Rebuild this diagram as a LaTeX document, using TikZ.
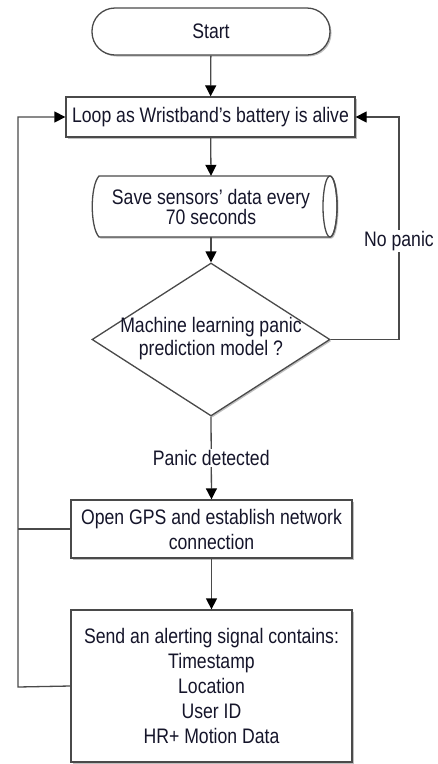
\documentclass[tikz,border=0pt]{standalone}
\usepackage{fontspec}
\setmainfont{Liberation Sans}[FakeStretch=0.84]
\usetikzlibrary{arrows.meta,shadows,shapes.geometric}
\definecolor{ln}{HTML}{4A4A4A}
\definecolor{tx}{HTML}{15152A}
\begin{document}
\begin{tikzpicture}[x=1pt,y=-1pt,
  every node/.style={text=tx, font=\fontsize{21}{25}\selectfont},
  shade/.style={drop shadow={shadow xshift=1.5pt,shadow yshift=-1.5pt,opacity=0.25,fill=black}},
  box/.style={draw=ln, line width=1.3pt, fill=white, inner sep=0pt, align=center, shade},
  arr/.style={draw=ln, line width=1.3pt, -{Triangle[length=11pt,width=11pt,color=black]}},
  con/.style={draw=ln, line width=1.3pt},
  lbl/.style={fill=white, inner sep=1.5pt}
]
\useasboundingbox (0,0) rectangle (438,764);

% nodes
\node[box, rounded corners=23pt, minimum width=238pt, minimum height=47pt] (start) at (211,31.5) {Start};
\node[box, minimum width=289pt, minimum height=40pt] (loop) at (210.5,117) {Loop as Wristband's battery is alive};

% storage shape
\fill[black, opacity=0.25] (100.5,177.5) -- (331.5,177.5) arc[start angle=-90,end angle=90,x radius=7,y radius=30.5] -- (100.5,238.5) .. controls (91.5,228.5) and (91.5,187.5) .. cycle;
\filldraw[draw=ln, fill=white, line width=1.3pt] (99,176) -- (330,176) arc[start angle=-90,end angle=90,x radius=7,y radius=30.5] -- (99,237) .. controls (90,227) and (90,186) .. cycle;
\draw[ln, line width=1.3pt] (330,206.5) ellipse[x radius=7, y radius=30.5];
\node[inner sep=0pt, minimum width=245pt, minimum height=61pt, align=center, font=\fontsize{21}{20}\selectfont] (save) at (211,206.5) {Save sensors' data every\\70 seconds};

\node[diamond, draw=ln, line width=1.3pt, fill=white, inner sep=0pt, minimum width=238pt, minimum height=153pt, shade] (dec) at (211,339.5) {};
\node[align=center, inner sep=0pt, font=\fontsize{21}{23}\selectfont] (dectxt) at (211,339) {Machine learning panic\\prediction model ?};

\node[box, minimum width=281pt, minimum height=58pt] (gps) at (211.5,529) {Open GPS and establish network\\connection};
\node[box, minimum width=281pt, minimum height=152pt] (send) at (211.5,686) {Send an alerting signal contains:\\Timestamp\\Location\\User ID\\HR+ Motion Data};

\coordinate (rc) at (399,339.5);
\coordinate (lc) at (18,687);

% connectors
\draw[arr] (start) -- (loop);
\draw[arr] (loop) -- (save.north);
\draw[arr] (save.south) -- (dec.north);
\draw[arr] (dec.south) -- node[lbl] {Panic detected} (gps.north);
\draw[arr] (gps) -- (send);
\draw[arr] (dec.east) -- (rc) -- node[lbl, pos=0.443] {No panic} (rc |- loop.east) -- (loop.east);
\draw[arr] (send.west) -- (lc) -- (lc |- loop.west) -- (loop.west);
\draw[con] (gps.west) -- (gps.west -| lc);
\end{tikzpicture}
\end{document}
